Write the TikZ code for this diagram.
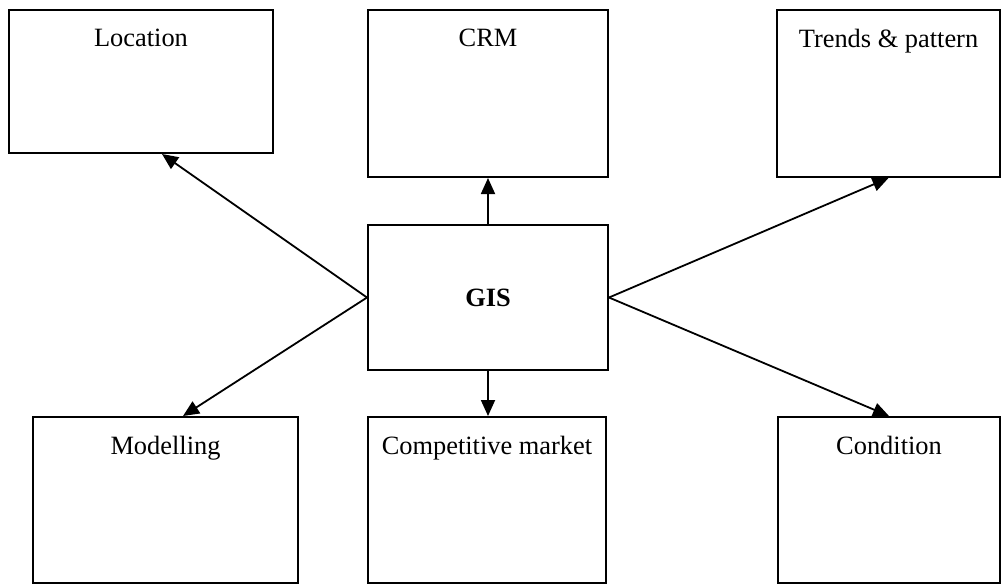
\documentclass[tikz,border=0pt]{standalone}
\usepackage{fontspec}
\setmainfont{Liberation Serif}
\usepackage{tikz}
\usetikzlibrary{arrows.meta}

\tikzset{
  panel/.style={draw, line width=1pt, inner sep=0pt},
  heading/.style={anchor=north, inner sep=0pt, yshift=-10pt, font=\fontsize{13.2}{16}\selectfont},
  link/.style={line width=0.9pt, -{Triangle[length=8pt,width=7pt]}}
}

\begin{document}
\begin{tikzpicture}[x=0.5pt,y=-0.5pt]
\useasboundingbox (0,0) rectangle (1007,585);

% top row
\node[panel, minimum width=132pt, minimum height=71.5pt, label={[heading]north:Location}] (loc) at (141,81.5) {};
\node[panel, minimum width=120pt, minimum height=83.5pt, label={[heading]north:CRM}] (crm) at (488,93.5) {};
\node[panel, minimum width=111.5pt, minimum height=83.5pt, label={[heading]north:Trends \& pattern}] (trend) at (888.5,93.5) {};

% centre
\node[panel, minimum width=120pt, minimum height=72.5pt, font=\fontsize{13.2}{16}\selectfont\bfseries] (gis) at (488,297.5) {GIS};

% bottom row
\node[panel, minimum width=132.5pt, minimum height=83pt, label={[heading]north:Modelling}] (model) at (165.5,500) {};
\node[panel, minimum width=119pt, minimum height=83pt, label={[heading]north:Competitive market}] (comp) at (487,500) {};
\node[panel, minimum width=111pt, minimum height=83pt, label={[heading]north:Condition}] (cond) at (889,500) {};

% connectors
\draw[link] (gis.west) -- ([xshift=10.5pt]loc.south);
\draw[link] (gis.north) -- (crm.south);
\draw[link] (gis.east) -- (trend.south);
\draw[link] (gis.west) -- ([xshift=8.75pt]model.north);
\draw[link] (gis.south) -- (comp.north -| gis.south);
\draw[link] (gis.east) -- (cond.north);
\end{tikzpicture}
\end{document}
